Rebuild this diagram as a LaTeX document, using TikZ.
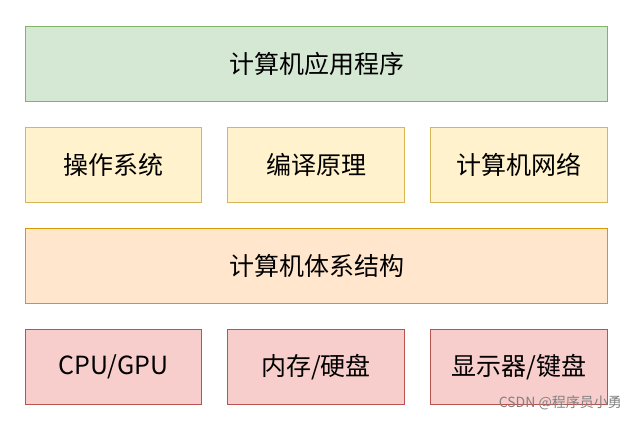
\documentclass[tikz,border=0pt]{standalone}
\usepackage{fontspec}
\setmainfont{Noto Sans CJK SC}
\definecolor{gF}{HTML}{D5E8D4}\definecolor{gD}{HTML}{82B366}
\definecolor{yF}{HTML}{FFF2CC}\definecolor{yD}{HTML}{D6B656}
\definecolor{oF}{HTML}{FFE6CC}\definecolor{oD}{HTML}{D79B00}
\definecolor{rF}{HTML}{F8CECC}\definecolor{rD}{HTML}{B85450}
\begin{document}
\begin{tikzpicture}[x=1pt,y=-1pt,
 box/.style={draw,line width=1pt,font=\fontsize{25}{28}\selectfont,inner sep=0pt,anchor=north west}]
\useasboundingbox[fill=white] (0,0) rectangle (632,421);
\node[box,fill=gF,draw=gD,minimum width=582,minimum height=75] (app) at (25,26) {计算机应用程序};
\node[box,fill=yF,draw=yD,minimum width=176,minimum height=75] (os) at (25,127) {操作系统};
\node[box,fill=yF,draw=yD,minimum width=177,minimum height=75] (cp) at (227,127) {编译原理};
\node[box,fill=yF,draw=yD,minimum width=177,minimum height=75] (net) at (430,127) {计算机网络};
\node[box,fill=oF,draw=oD,minimum width=582,minimum height=75] (arch) at (25,228) {计算机体系结构};
\node[box,fill=rF,draw=rD,minimum width=176,minimum height=75] (cpu) at (25,329) {CPU/GPU};
\node[box,fill=rF,draw=rD,minimum width=177,minimum height=75] (mem) at (227,329) {内存/硬盘};
\node[box,fill=rF,draw=rD,minimum width=177,minimum height=75] (io) at (430,329) {显示器/键盘};
\node[anchor=east,text=gray,font=\fontsize{14}{15}\selectfont,inner sep=0pt] (wm) at (622,403) {CSDN @程序员小勇};
\end{tikzpicture}
\end{document}
